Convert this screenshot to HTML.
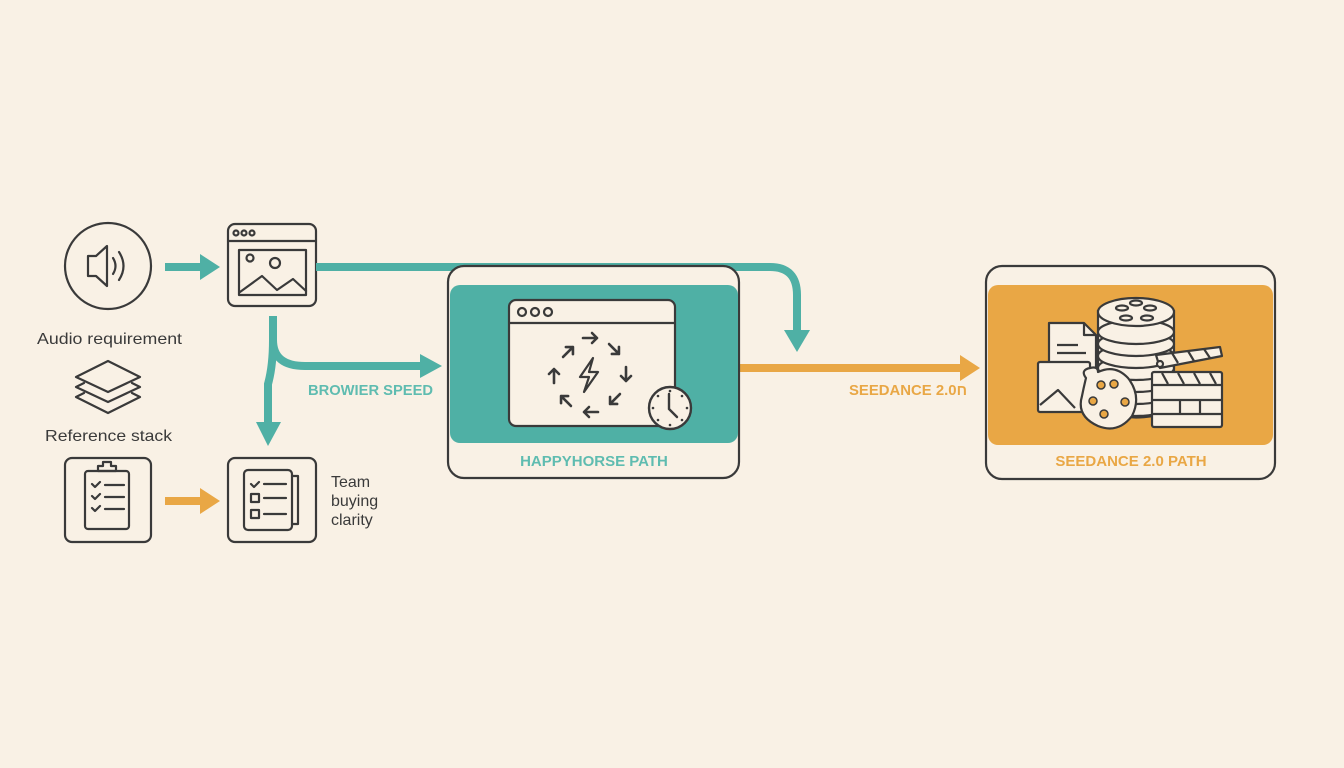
<!DOCTYPE html>
<html><head><meta charset="utf-8"><style>
html,body{margin:0;padding:0;background:#f9f1e5}
svg{display:block}
text{font-family:"Liberation Sans",sans-serif}
</style></head><body>
<svg width="1344" height="768" viewBox="0 0 1344 768" xmlns="http://www.w3.org/2000/svg">
<defs>
<path id="ar" d="M-7 0 H7 M2 -5 L7 0 L2 5" fill="none" stroke="#3a3a3a" stroke-width="2.6" stroke-linecap="round" stroke-linejoin="round"/>
</defs>
<rect width="1344" height="768" fill="#f9f1e5"/>
<g fill="none" stroke="#3a3a3a" stroke-width="2.2" stroke-linecap="round" stroke-linejoin="round">
<circle cx="108" cy="266" r="43"/>
<path d="M88 256 H96 L107 246 V286 L96 276 H88 Z"/>
<path d="M113 258 Q118 266 113 274"/>
<path d="M119 252 Q128 266 119 280"/>
<rect x="228" y="224" width="88" height="82" rx="7"/>
<line x1="228" y1="241" x2="316" y2="241"/>
<circle cx="236" cy="233" r="2.5"/><circle cx="244" cy="233" r="2.5"/><circle cx="252" cy="233" r="2.5"/>
<rect x="239" y="250" width="67" height="45"/>
<circle cx="250" cy="258" r="3.5"/><circle cx="275" cy="263" r="5"/>
<path d="M240 292 L262 276 L277 290 L293 279 L306 291"/>
<path d="M108 361 L140 377 L108 392 L76 377 Z"/>
<path d="M84 383 L76 387 L108 402 L140 387 L132 383"/>
<path d="M84 393 L76 397 L108 413 L140 397 L132 393"/>
<rect x="65" y="458" width="86" height="84" rx="7"/>
<rect x="85" y="471" width="44" height="58" rx="3"/>
<path d="M98 471 V466 H103 V462 H111 V466 H116 V471 Z"/>
<path d="M92 484 l3 3 l5 -5 M105 485 H124 M92 496 l3 3 l5 -5 M105 497 H124 M92 508 l3 3 l5 -5 M105 509 H124"/>
<rect x="228" y="458" width="88" height="84" rx="7"/>
<rect x="244" y="470" width="48" height="60" rx="4"/>
<path d="M292 476 H298 V524 H292"/>
<path d="M251 484 l3 3 l5 -5 M264 484 H286"/>
<rect x="251" y="494" width="8" height="8"/><path d="M264 498 H286"/>
<rect x="251" y="510" width="8" height="8"/><path d="M264 514 H286"/>
</g>
<g font-size="16" fill="#3a3a3a">
<text x="37" y="344" textLength="145" lengthAdjust="spacingAndGlyphs">Audio requirement</text>
<text x="45" y="441" textLength="127" lengthAdjust="spacingAndGlyphs">Reference stack</text>
<text x="331" y="487">Team</text>
<text x="331" y="506">buying</text>
<text x="331" y="525">clarity</text>
</g>
<g fill="none" stroke="#4fb0a5" stroke-width="8">
<line x1="165" y1="267" x2="202" y2="267"/>
<path d="M316 267 H770 Q797 267 797 295 V332"/>
<path d="M273 316 V340 Q273 366 305 366 H422"/>
<path d="M273 340 Q273 366 268 384 V424"/>
</g>
<g fill="#4fb0a5">
<path d="M200 254 L220 267 L200 280 Z"/>
<path d="M784 330 L810 330 L797 352 Z"/>
<path d="M420 354 L442 366 L420 378 Z"/>
<path d="M256 422 L281 422 L268 446 Z"/>
</g>
<text x="308" y="395" font-size="15" font-weight="bold" fill="#5fbcb0" textLength="125" lengthAdjust="spacingAndGlyphs">BROWIER SPEED</text>
<line x1="165" y1="501" x2="202" y2="501" stroke="#e9a745" stroke-width="8"/>
<path d="M200 488 L220 501 L200 514 Z" fill="#e9a745"/>
<line x1="739" y1="368" x2="962" y2="368" stroke="#e9a745" stroke-width="8"/>
<path d="M960 355 L980 368 L960 381 Z" fill="#e9a745"/>
<text x="849" y="395" font-size="15" font-weight="bold" fill="#e9a745" textLength="118" lengthAdjust="spacingAndGlyphs">SEEDANCE 2.0ח</text>
<rect x="448" y="266" width="291" height="212" rx="16" fill="#f9f1e5" stroke="#3a3a3a" stroke-width="2.2"/>
<rect x="450" y="285" width="288" height="158" rx="10" fill="#4fb0a5"/>
<text x="594" y="466" font-size="15" font-weight="bold" fill="#5fbcb0" text-anchor="middle">HAPPYHORSE PATH</text>
<g fill="#f9f1e5" stroke="#3a3a3a" stroke-width="2.2">
<rect x="509" y="300" width="166" height="126" rx="7"/>
<line x1="509" y1="323" x2="675" y2="323"/>
<circle cx="522" cy="312" r="4"/><circle cx="535" cy="312" r="4"/><circle cx="548" cy="312" r="4"/>
</g>
<use href="#ar" transform="translate(590,338)"/>
<use href="#ar" transform="translate(614,349) rotate(45)"/>
<use href="#ar" transform="translate(626,374) rotate(90)"/>
<use href="#ar" transform="translate(615,399) rotate(135)"/>
<use href="#ar" transform="translate(591,412) rotate(180)"/>
<use href="#ar" transform="translate(566,401) rotate(225)"/>
<use href="#ar" transform="translate(554,376) rotate(270)"/>
<use href="#ar" transform="translate(568,352) rotate(315)"/>
<path d="M593 358 L580 377 H589 L584 392 L598 372 H589 Z" fill="none" stroke="#3a3a3a" stroke-width="2.2" stroke-linejoin="round"/>
<circle cx="670" cy="408" r="21" fill="#f9f1e5" stroke="#3a3a3a" stroke-width="2.4"/>
<path d="M669 394 V409 L677 417" fill="none" stroke="#3a3a3a" stroke-width="2.4" stroke-linecap="round"/>
<g fill="#3a3a3a"><circle cx="670" cy="391" r="1.3"/><circle cx="670" cy="425" r="1.3"/><circle cx="653" cy="408" r="1.3"/><circle cx="687" cy="408" r="1.3"/><circle cx="682" cy="396" r="1.3"/><circle cx="658" cy="396" r="1.3"/><circle cx="682" cy="420" r="1.3"/><circle cx="658" cy="420" r="1.3"/></g>
<rect x="986" y="266" width="289" height="213" rx="16" fill="#f9f1e5" stroke="#3a3a3a" stroke-width="2.2"/>
<rect x="988" y="285" width="285" height="160" rx="10" fill="#e9a745"/>
<text x="1131" y="466" font-size="15" font-weight="bold" fill="#e9a745" text-anchor="middle">SEEDANCE 2.0 PATH</text>
<g fill="#f9f1e5" stroke="#3a3a3a" stroke-width="2.2" stroke-linejoin="round">
<path d="M1049 323 H1084 L1096 335 V372 H1049 Z"/>
<path d="M1084 323 V335 H1096" fill="none"/>
<path d="M1057 345 H1078 M1057 353 H1086" fill="none"/>
<path d="M1098 310 V410 Q1136 425 1174 410 V310"/>
<ellipse cx="1136" cy="404" rx="38" ry="12"/>
<ellipse cx="1136" cy="392" rx="38" ry="12"/>
<ellipse cx="1136" cy="380" rx="38" ry="12"/>
<ellipse cx="1136" cy="368" rx="38" ry="12"/>
<ellipse cx="1136" cy="356" rx="38" ry="12"/>
<ellipse cx="1136" cy="344" rx="38" ry="12"/>
<ellipse cx="1136" cy="332" rx="38" ry="12"/>
<ellipse cx="1136" cy="312" rx="38" ry="14"/>
<ellipse cx="1136" cy="303" rx="6" ry="2.5"/>
<ellipse cx="1122" cy="308" rx="6" ry="2.5"/><ellipse cx="1150" cy="308" rx="6" ry="2.5"/>
<ellipse cx="1126" cy="318" rx="6" ry="2.5"/><ellipse cx="1147" cy="318" rx="6" ry="2.5"/>
<rect x="1038" y="362" width="52" height="50" rx="2"/>
<path d="M1040 405 L1058 390 L1075 408" fill="none"/>
<path d="M1086 378 Q1080 370 1090 368 Q1098 366 1098 372 Q1115 364 1128 378 Q1142 396 1132 416 Q1118 434 1098 426 Q1076 416 1082 396 Q1084 386 1086 378 Z"/>
<path d="M1156 355 L1220 347 L1222 356 L1160 368 Z"/>
<path d="M1172 353 l6 10 M1188 351 l6 10 M1204 349 l6 9" fill="none"/>
<rect x="1152" y="372" width="70" height="55" rx="2"/>
<path d="M1152 385 H1222 M1152 400 H1222 M1152 414 H1222 M1180 400 V414 M1200 400 V414" fill="none"/>
<path d="M1162 373 l6 11 M1178 373 l6 11 M1194 373 l6 11 M1210 373 l6 11" fill="none"/>
<circle cx="1160" cy="364" r="3"/>
</g>
<g fill="#e9a745" stroke="#3a3a3a" stroke-width="1.5">
<circle cx="1101" cy="385" r="4"/><circle cx="1114" cy="384" r="4"/><circle cx="1093" cy="401" r="4"/><circle cx="1125" cy="402" r="4"/><circle cx="1104" cy="414" r="4"/>
</g>
</svg>
</body></html>
